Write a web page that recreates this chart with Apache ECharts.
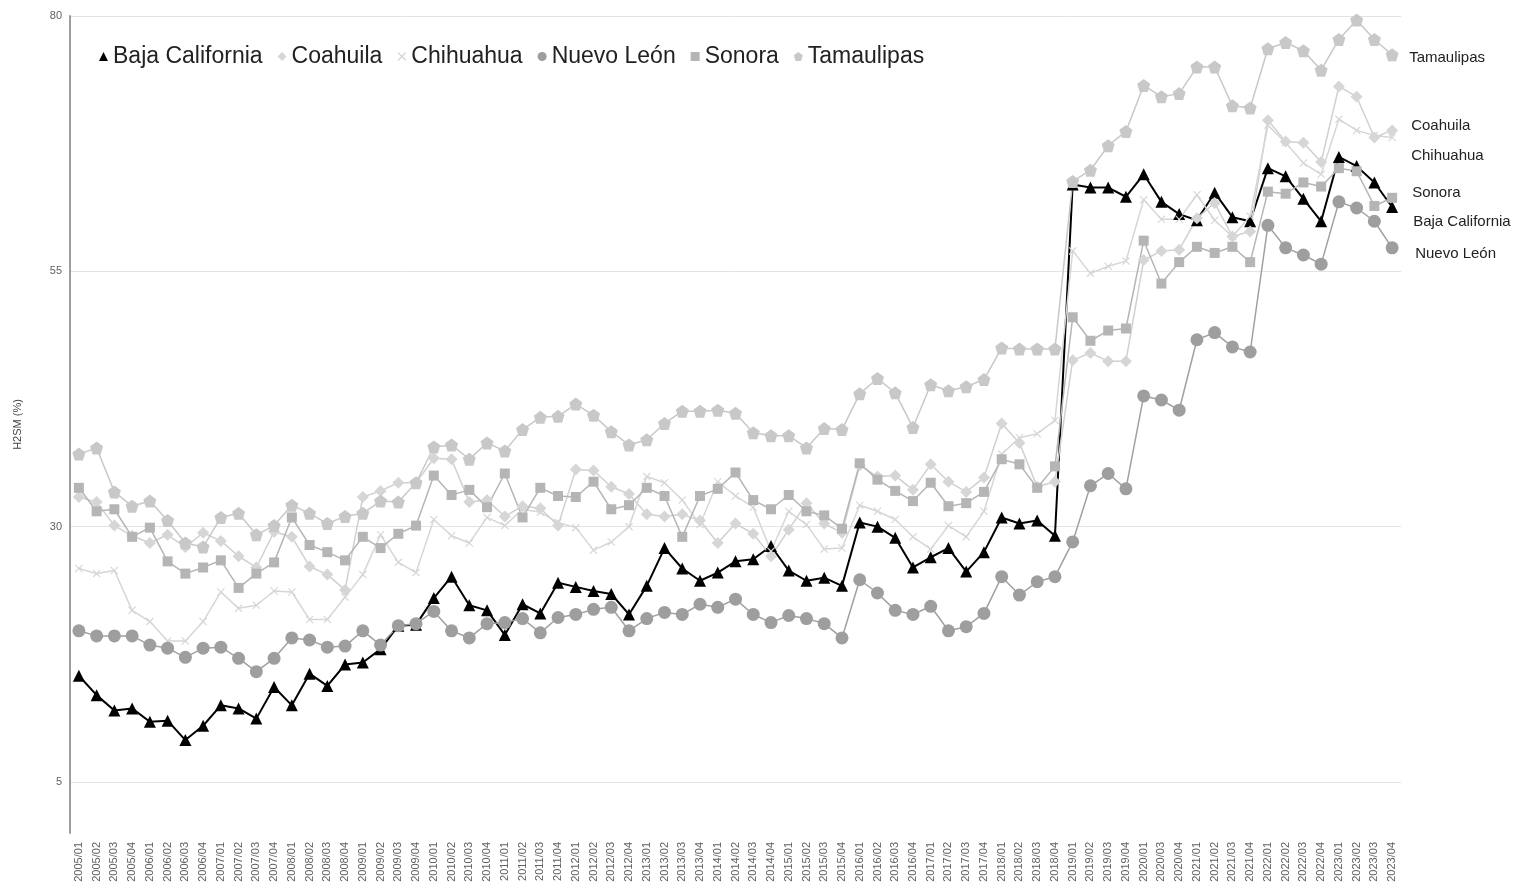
<!DOCTYPE html>
<html lang="es" style="height: 100%">
<head>
  <meta charset="utf-8" />
</head>
<body style="height: 100%; margin: 0; background: #fff">
  <div id="container" style="width: 1516px; height: 891px"></div>
  <script src="https://cdn.jsdelivr.net/npm/echarts@6.0.0/dist/echarts.min.js"></script>
  <script>
    // quarters (2020/02 is not in the source data)
    var quarters = [
      "2005/01","2005/02","2005/03","2005/04","2006/01","2006/02","2006/03","2006/04",
      "2007/01","2007/02","2007/03","2007/04","2008/01","2008/02","2008/03","2008/04",
      "2009/01","2009/02","2009/03","2009/04","2010/01","2010/02","2010/03","2010/04",
      "2011/01","2011/02","2011/03","2011/04","2012/01","2012/02","2012/03","2012/04",
      "2013/01","2013/02","2013/03","2013/04","2014/01","2014/02","2014/03","2014/04",
      "2015/01","2015/02","2015/03","2015/04","2016/01","2016/02","2016/03","2016/04",
      "2017/01","2017/02","2017/03","2017/04","2018/01","2018/02","2018/03","2018/04",
      "2019/01","2019/02","2019/03","2019/04","2020/01","2020/03","2020/04",
      "2021/01","2021/02","2021/03","2021/04","2022/01","2022/02","2022/03","2022/04",
      "2023/01","2023/02","2023/03","2023/04"
    ];

    var bajaCalifornia = [
      15.4, 13.5, 12.0, 12.2, 10.9, 11.0, 9.1, 10.5, 12.5, 12.2, 11.2, 14.3, 12.5, 15.6, 14.4, 16.5, 16.7, 18.0, 20.3,
      20.4, 23.0, 25.1, 22.3, 21.8, 19.4, 22.4, 21.5, 24.5, 24.1, 23.7, 23.4, 21.4, 24.2, 27.9, 25.9, 24.7, 25.5, 26.6,
      26.8, 28.1, 25.7, 24.7, 25.0, 24.2, 30.4, 30.0, 28.9, 26.0, 27.0, 27.9, 25.6, 27.5, 30.9, 30.3, 30.6, 29.1,
      63.5, 63.2, 63.2, 62.3, 64.5, 61.8, 60.6, 60.0, 62.7, 60.3, 59.9, 65.1, 64.3, 62.1, 59.9, 66.2, 65.3, 63.7, 61.3
    ];
    var coahuila = [
      32.9, 32.4, 30.1, 29.1, 28.4, 29.2, 28.0, 29.4, 28.6, 27.1, 26.0, 29.5, 29.0, 26.1, 25.3, 23.8, 32.9, 33.5, 34.3,
      34.3, 36.7, 36.6, 32.4, 32.6, 31.0, 32.0, 31.8, 30.1, 35.6, 35.5, 33.9, 33.2, 31.2, 31.0, 31.2, 30.6, 28.4, 30.3,
      29.3, 27.1, 29.7, 32.3, 30.3, 29.4, 36.0, 34.9, 35.0, 33.6, 36.1, 34.4, 33.4, 34.8, 40.1, 38.2, 33.9, 34.4,
      46.3, 47.0, 46.2, 46.2, 56.1, 57.0, 57.1, 60.2, 61.7, 58.4, 58.9, 69.8, 67.7, 67.6, 65.7, 73.1, 72.1, 68.1, 68.8
    ];
    var chihuahua = [
      25.9, 25.4, 25.7, 21.8, 20.7, 18.8, 18.8, 20.7, 23.6, 22.0, 22.3, 23.7, 23.6, 20.9, 20.9, 23.1, 25.3, 29.2, 26.5,
      25.5, 30.7, 29.1, 28.4, 30.9, 30.1, 31.7, 31.4, 30.4, 29.9, 27.7, 28.5, 30.0, 34.9, 34.3, 32.6, 30.2, 34.4, 33.0,
      31.9, 27.6, 31.5, 30.2, 27.8, 27.9, 32.1, 31.5, 30.7, 29.0, 27.8, 30.1, 29.0, 31.5, 37.1, 38.7, 39.1, 40.4,
      57.0, 54.8, 55.5, 56.0, 62.0, 60.1, 60.1, 62.5, 60.0, 58.4, 60.4, 69.3, 67.6, 65.6, 64.5, 69.9, 68.8, 68.3, 68.1
    ];
    var nuevoLeon = [
      19.8, 19.3, 19.3, 19.3, 18.4, 18.1, 17.2, 18.1, 18.2, 17.1, 15.8, 17.1, 19.1, 18.9, 18.2, 18.3, 19.8, 18.4, 20.3,
      20.5, 21.7, 19.8, 19.1, 20.5, 20.6, 21.0, 19.6, 21.1, 21.4, 21.9, 22.1, 19.8, 21.0, 21.6, 21.4, 22.4, 22.1, 22.9,
      21.4, 20.6, 21.3, 21.0, 20.5, 19.1, 24.8, 23.5, 21.8, 21.4, 22.2, 19.8, 20.2, 21.5, 25.1, 23.3, 24.6, 25.1,
      28.5, 34.0, 35.2, 33.7, 42.8, 42.4, 41.4, 48.3, 49.0, 47.6, 47.1, 59.5, 57.3, 56.6, 55.7, 61.8, 61.2, 59.9, 57.3
    ];
    var sonora = [
      33.8, 31.5, 31.7, 29.0, 29.9, 26.6, 25.4, 26.0, 26.7, 24.0, 25.4, 26.5, 30.9, 28.2, 27.5, 26.7, 29.0, 27.9, 29.3,
      30.1, 35.0, 33.1, 33.6, 31.9, 35.2, 30.9, 33.8, 33.0, 32.9, 34.4, 31.7, 32.1, 33.8, 33.0, 29.0, 33.0, 33.7, 35.3,
      32.6, 31.7, 33.1, 31.5, 31.1, 29.8, 36.2, 34.6, 33.5, 32.5, 34.3, 32.0, 32.3, 33.4, 36.6, 36.1, 33.8, 35.9,
      50.5, 48.2, 49.2, 49.4, 58.0, 53.8, 55.9, 57.4, 56.8, 57.4, 55.9, 62.8, 62.6, 63.7, 63.3, 65.1, 64.8, 61.4, 62.2
    ];
    var tamaulipas = [
      37.1, 37.7, 33.4, 32.0, 32.5, 30.6, 28.4, 28.0, 30.9, 31.3, 29.2, 30.1, 32.1, 31.3, 30.3, 31.0, 31.3, 32.5, 32.4,
      34.3, 37.8, 38.0, 36.6, 38.2, 37.4, 39.5, 40.7, 40.8, 42.0, 40.9, 39.3, 38.0, 38.5, 40.1, 41.3, 41.3, 41.4, 41.1,
      39.2, 38.9, 38.9, 37.7, 39.6, 39.5, 43.0, 44.5, 43.1, 39.7, 43.9, 43.3, 43.7, 44.4, 47.5, 47.4, 47.4, 47.4,
      63.8, 64.9, 67.3, 68.7, 73.2, 72.1, 72.4, 75.0, 75.0, 71.2, 71.0, 76.8, 77.4, 76.6, 74.7, 77.7, 79.6, 77.7, 76.2
    ];
    var yTicks = [5, 30, 55, 80];

    var crossPath = "path://M0,1 L1,0 L5,4 L9,0 L10,1 L6,5 L10,9 L9,10 L5,6 L1,10 L0,9 L4,5 Z";
    var pentagonPath = "path://M5,0 L10,3.7 L8.1,10 L1.9,10 L0,3.7 Z";
    var font = "'Liberation Sans', Arial, sans-serif";

    function makeSeries(name, data, color, lineColor, symbol, size, width, labelOffset) {
      return {
        name: name,
        type: "line",
        data: data,
        symbol: symbol,
        symbolSize: size,
        showAllSymbol: true,
        color: color,
        itemStyle: { color: color },
        lineStyle: { color: lineColor, width: width },
        endLabel: {
          show: true,
          formatter: "{a}",
          offset: labelOffset,
          color: "#222",
          fontSize: 15,
          fontFamily: font
        },
        emphasis: { disabled: true }
      };
    }

    var myChart = echarts.init(document.getElementById("container"), null, { renderer: "canvas" });
    var option = {
      animation: false,
      textStyle: { fontFamily: font },
      grid: { left: 70, right: 115, top: 16, bottom: 58 },
      legend: {
        left: 94,
        top: 40,
        itemWidth: 9,
        itemHeight: 9,
        itemGap: 15,
        textStyle: { fontSize: 23, color: "#222", fontFamily: font },
        data: [
          { name: "Baja California", icon: "triangle" },
          { name: "Coahuila", icon: "diamond" },
          { name: "Chihuahua", icon: crossPath },
          { name: "Nuevo León", icon: "circle" },
          { name: "Sonora", icon: "rect" },
          { name: "Tamaulipas", icon: pentagonPath }
        ]
      },
      xAxis: {
        type: "category",
        data: quarters,
        boundaryGap: true,
        axisLine: { show: false },
        axisTick: { show: false },
        axisLabel: { rotate: 90, interval: 0, fontSize: 11, color: "#5f5f5f", margin: 9 }
      },
      yAxis: {
        type: "value",
        min: 0,
        max: 80,
        name: "H2SM (%)",
        nameLocation: "middle",
        nameRotate: 90,
        nameGap: 47,
        nameTextStyle: { fontSize: 11, color: "#444" },
        axisLine: { show: true, lineStyle: { color: "#9e9e9e", width: 2 } },
        axisTick: { show: false, customValues: yTicks },
        axisLabel: { customValues: yTicks, fontSize: 11, color: "#5f5f5f", margin: 8 },
        splitLine: { show: true, lineStyle: { color: "#e3e3e3", width: 1 } }
      },
      series: [
        makeSeries("Baja California", bajaCalifornia, "#000000", "#000000", "triangle", 12, 2, [13, 15]),
        makeSeries("Coahuila", coahuila, "#d6d6d6", "#d0d0d0", "diamond", 12, 1.5, [11, -5]),
        makeSeries("Chihuahua", chihuahua, "#d6d6d6", "#d6d6d6", crossPath, 8, 1.5, [11, 18]),
        makeSeries("Nuevo León", nuevoLeon, "#9e9e9e", "#a0a0a0", "circle", 13, 1.5, [15, 6]),
        makeSeries("Sonora", sonora, "#b5b5b5", "#b5b5b5", "rect", 10, 1.5, [12, -5]),
        makeSeries("Tamaulipas", tamaulipas, "#c8c8c8", "#c8c8c8", pentagonPath, 13, 1.5, [9, 3])
      ]
    };
    myChart.setOption(option);
    window.addEventListener("resize", myChart.resize);
  </script>
</body>
</html>
